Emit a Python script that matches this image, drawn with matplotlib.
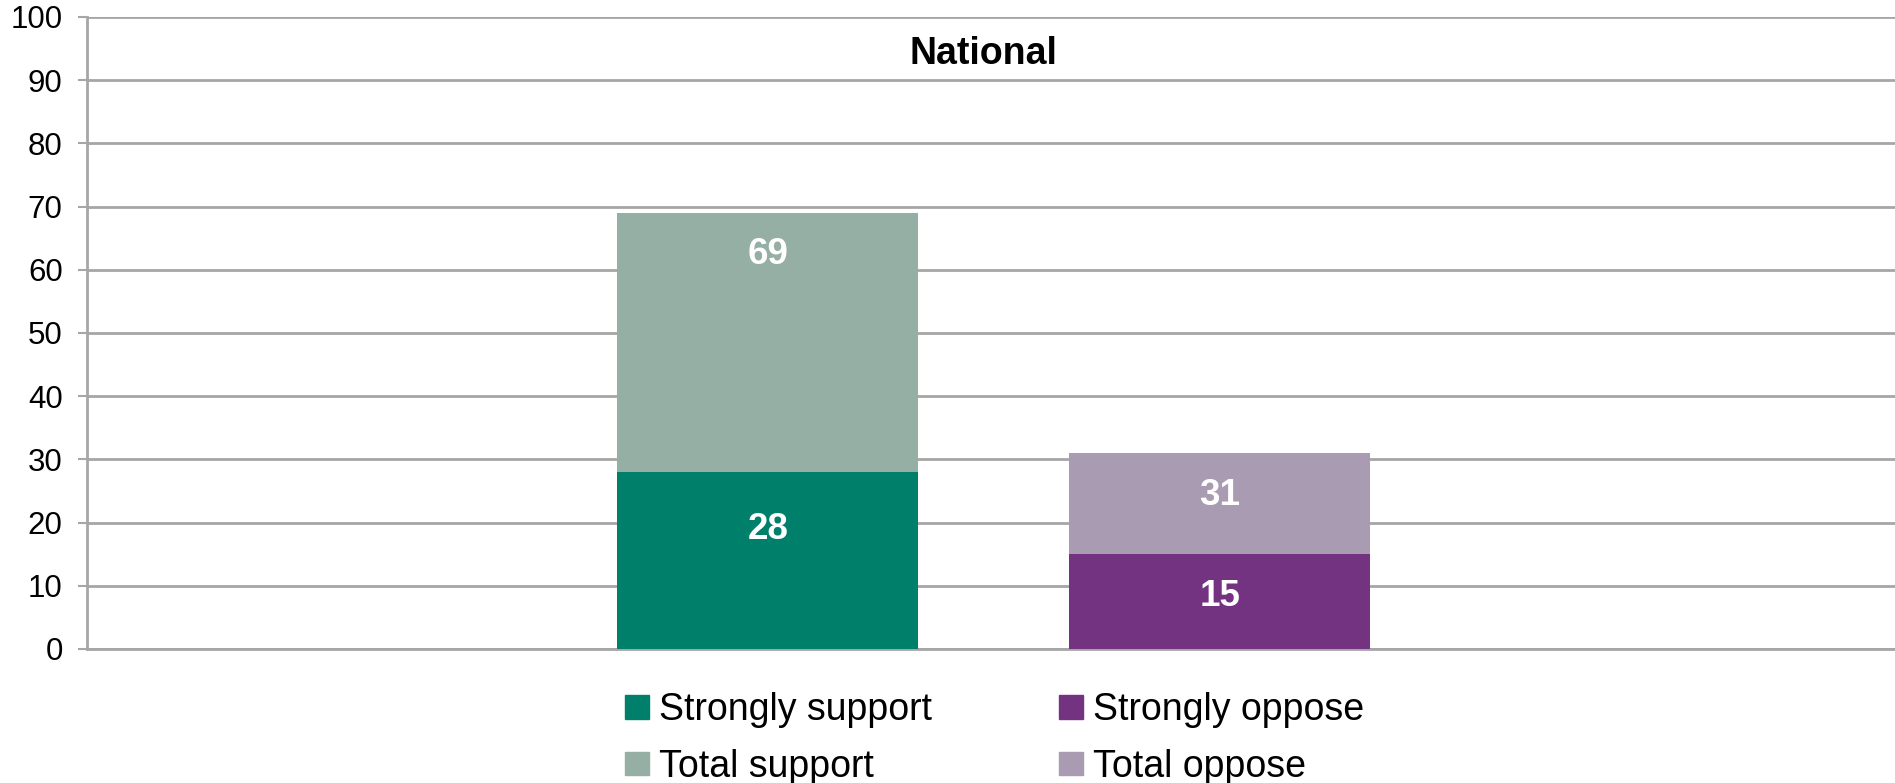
import matplotlib
matplotlib.use("Agg")
import matplotlib.pyplot as plt
from matplotlib.patches import Patch
from matplotlib.transforms import offset_copy

plt.rcParams['font.family'] = ['Liberation Sans', 'DejaVu Sans']

# ---- data ----
title = "National"
groups = ["Support", "Oppose"]
total_values = [69, 31]
strong_values = [28, 15]
total_labels = ["Total support", "Total oppose"]
strong_labels = ["Strongly support", "Strongly oppose"]
yticks = [0, 10, 20, 30, 40, 50, 60, 70, 80, 90, 100]

# ---- style ----
total_colors = ["#95AFA5", "#A99BB2"]
strong_colors = ["#00806A", "#733381"]
grid_color = "#A6A6A6"
positions = [0, 1]
bar_width = 0.667
label_offsets_px = {"total": [42, 42], "strong": [57, 42]}

fig = plt.figure(figsize=(18.95, 7.83), dpi=100)
ax = fig.add_axes([87/1895, 1 - 649/783, 1 - 87/1895, (649 - 17)/783])

ax.bar(positions, total_values, width=bar_width, color=total_colors, zorder=2)
ax.bar(positions, strong_values, width=bar_width, color=strong_colors, zorder=3)

for i, (tv, sv) in enumerate(zip(total_values, strong_values)):
    t1 = offset_copy(ax.transData, fig=fig, x=0, y=-label_offsets_px["total"][i] * 72 / 100, units='points')
    ax.text(positions[i], tv, str(tv), transform=t1, ha='center', va='center',
            color='white', fontsize=26.5, fontweight='bold', zorder=4)
    t2 = offset_copy(ax.transData, fig=fig, x=0, y=-label_offsets_px["strong"][i] * 72 / 100, units='points')
    ax.text(positions[i], sv, str(sv), transform=t2, ha='center', va='center',
            color='white', fontsize=26.5, fontweight='bold', zorder=4)

ax.set_xlim(-1.506, 2.494)
ax.set_ylim(0, 100)
ax.set_yticks(yticks)
ax.set_yticklabels([str(v) for v in yticks], fontsize=22.5)
ax.set_xticks([])
ax.yaxis.grid(True, color=grid_color, linewidth=2, zorder=0)
ax.set_axisbelow(True)
for s in ['top', 'right']:
    ax.spines[s].set_visible(False)
for s in ['left', 'bottom']:
    ax.spines[s].set_color(grid_color)
    ax.spines[s].set_linewidth(2)
ax.tick_params(axis='y', length=6.5, width=1.5, color=grid_color, pad=11, labelcolor='black')

ax.text(0.496, 0.942, title, transform=ax.transAxes, ha='center', va='center',
        fontsize=27, fontweight='bold')

handles = [Patch(color=strong_colors[0]), Patch(color=total_colors[0]),
           Patch(color=strong_colors[1]), Patch(color=total_colors[1])]
labels = [strong_labels[0], total_labels[0], strong_labels[1], total_labels[1]]
fig.legend(handles, labels, ncol=2, loc='upper left',
           bbox_to_anchor=(625/1895, 1 - 692/783), frameon=False,
           fontsize=27, handlelength=0.64, handleheight=0.59, handletextpad=0.27,
           labelspacing=0.55, columnspacing=3.39, borderpad=0, borderaxespad=0)

fig.savefig("out.png", dpi=100)
